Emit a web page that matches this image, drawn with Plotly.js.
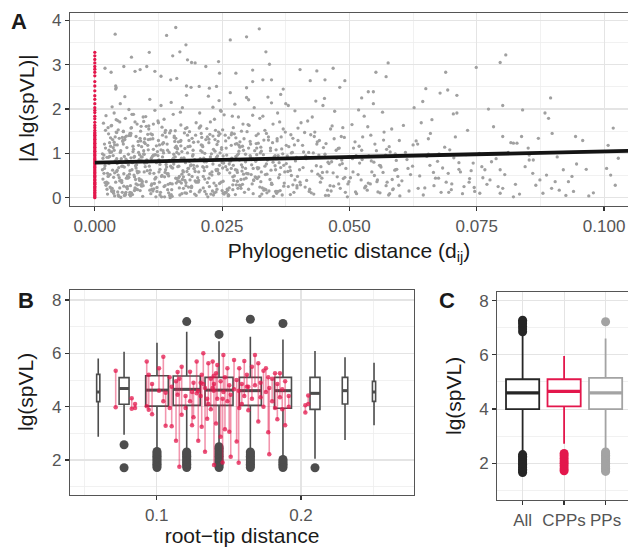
<!DOCTYPE html>
<html>
<head>
<meta charset="utf-8">
<script src="https://cdn.plot.ly/plotly-3.0.1.min.js"></script>
<style>html,body{margin:0;padding:0;background:#fff;}#chart{width:628px;height:547px;}</style>
</head>
<body>
<div id="chart"></div>
<script>
// ---------- Panel A data: pairwise phylogenetic distance vs |Δ lg(spVL)| ----------
const distX = [
 0.0016,0.0021,0.0025,0.0028,0.0031,0.0034,0.0036,0.0039,0.0042,0.0045,0.0047,0.0050,0.0053,0.0056,0.0058,0.0061,0.0064,0.0067,0.0070,0.0073,
 0.0076,0.0079,0.0082,0.0085,0.0088,0.0091,0.0094,0.0097,0.0019,0.0023,0.0027,0.0030,0.0033,0.0037,0.0040,0.0044,0.0048,0.0051,0.0055,0.0059,
 0.0062,0.0066,0.0069,0.0072,0.0075,0.0078,0.0081,0.0084,0.0087,0.0090,0.0093,0.0096,0.0099,0.0018,0.0024,0.0029,0.0035,0.0041,0.0046,0.0052,
 0.0057,0.0063,0.0068,0.0074,0.0080,0.0086,0.0092,0.0098,0.0017,0.0022,0.0026,0.0032,0.0038,0.0043,0.0049,0.0054,0.0060,0.0065,0.0071,0.0077,
 0.0083,0.0089,0.0095,0.0020,0.0034,0.0045,0.0058,0.0067,0.0079,0.0091,0.0028,0.0039,0.0050,0.0061,0.0073,0.0085,0.0097,0.0041,0.0041,0.0042,
 0.0101,0.0104,0.0107,0.0110,0.0113,0.0116,0.0119,0.0122,0.0125,0.0128,0.0131,0.0134,0.0137,0.0140,0.0143,0.0146,0.0149,0.0152,0.0155,0.0158,
 0.0161,0.0164,0.0167,0.0170,0.0173,0.0176,0.0179,0.0182,0.0185,0.0188,0.0191,0.0194,0.0197,0.0102,0.0106,0.0111,0.0115,0.0120,0.0124,0.0129,
 0.0133,0.0138,0.0142,0.0147,0.0151,0.0156,0.0160,0.0165,0.0169,0.0174,0.0178,0.0183,0.0187,0.0192,0.0196,0.0100,0.0109,0.0118,0.0127,0.0136,
 0.0145,0.0154,0.0163,0.0172,0.0181,0.0190,0.0199,0.0105,0.0114,0.0123,0.0132,0.0141,0.0150,0.0159,0.0168,0.0177,0.0186,0.0195,0.0108,0.0117,
 0.0126,0.0135,0.0144,0.0153,0.0162,0.0171,0.0180,0.0189,0.0198,0.0112,0.0121,0.0139,0.0148,0.0157,0.0166,0.0175,0.0184,0.0193,0.0103,0.0130,
 0.0201,0.0205,0.0209,0.0213,0.0217,0.0221,0.0225,0.0229,0.0233,0.0237,0.0241,0.0245,0.0249,0.0253,0.0257,0.0261,0.0265,0.0269,0.0273,0.0277,
 0.0281,0.0285,0.0289,0.0293,0.0297,0.0203,0.0208,0.0214,0.0219,0.0224,0.0230,0.0235,0.0240,0.0246,0.0251,0.0256,0.0262,0.0267,0.0272,0.0278,
 0.0283,0.0288,0.0294,0.0299,0.0206,0.0216,0.0227,0.0238,0.0248,0.0259,0.0270,0.0280,0.0291,0.0211,0.0222,0.0232,0.0243,0.0254,0.0264,0.0275,
 0.0286,0.0296,0.0204,0.0218,0.0231,0.0244,0.0258,0.0271,0.0284,0.0298,0.0212,0.0226,0.0239,0.0252,0.0266,0.0279,0.0292,0.0223,0.0247,0.0268,
 0.0207,0.0220,0.0234,0.0250,0.0263,0.0276,0.0290,0.0215,0.0242,0.0282,
 0.0301,0.0306,0.0311,0.0316,0.0321,0.0326,0.0331,0.0336,0.0341,0.0346,0.0351,0.0356,0.0361,0.0366,0.0371,0.0376,0.0381,0.0386,0.0391,0.0396,
 0.0303,0.0309,0.0314,0.0319,0.0324,0.0329,0.0334,0.0339,0.0344,0.0349,0.0354,0.0359,0.0364,0.0369,0.0374,0.0379,0.0384,0.0389,0.0394,0.0399,
 0.0305,0.0313,0.0322,0.0330,0.0338,0.0347,0.0355,0.0363,0.0372,0.0380,0.0388,0.0397,0.0308,0.0318,0.0327,0.0343,0.0358,0.0368,0.0383,0.0393,
 0.0302,0.0317,0.0333,0.0350,0.0365,0.0378,0.0392,0.0312,0.0340,0.0370,0.0325,0.0357,0.0385,0.0335,0.0362,0.0310,0.0348,0.0375,0.0398,0.0320,
 0.0402,0.0408,0.0413,0.0419,0.0424,0.0430,0.0435,0.0441,0.0446,0.0452,0.0457,0.0463,0.0468,0.0474,0.0479,0.0485,0.0490,0.0496,0.0405,0.0416,
 0.0427,0.0438,0.0449,0.0460,0.0471,0.0482,0.0493,0.0410,0.0421,0.0432,0.0443,0.0454,0.0465,0.0476,0.0487,0.0498,0.0404,0.0426,0.0448,0.0470,
 0.0492,0.0415,0.0437,0.0459,0.0481,0.0412,0.0434,0.0456,0.0478,0.0499,0.0418,0.0440,0.0462,0.0484,0.0422,0.0444,0.0466,0.0488,0.0429,0.0451,
 0.0502,0.0508,0.0514,0.0520,0.0526,0.0532,0.0538,0.0544,0.0550,0.0556,0.0562,0.0568,0.0574,0.0580,0.0586,0.0592,0.0598,0.0505,0.0517,0.0529,
 0.0541,0.0553,0.0565,0.0577,0.0589,0.0511,0.0523,0.0535,0.0547,0.0559,0.0571,0.0583,0.0595,0.0506,0.0530,0.0554,0.0578,0.0599,0.0518,0.0542,
 0.0566,0.0590,0.0512,0.0548,0.0572,0.0536,0.0560,0.0584,0.0524,0.0593,
 0.0603,0.0610,0.0617,0.0624,0.0631,0.0638,0.0645,0.0652,0.0659,0.0666,0.0673,0.0680,0.0687,0.0694,0.0701,0.0708,0.0715,0.0722,0.0729,0.0736,
 0.0743,0.0606,0.0620,0.0634,0.0648,0.0662,0.0676,0.0690,0.0704,0.0718,0.0732,0.0746,0.0613,0.0641,0.0669,0.0697,0.0725,0.0627,0.0655,0.0683,
 0.0711,0.0739,0.0644,0.0700,0.0658,
 0.0801,0.0773,0.0840,0.0884,0.0891,0.0783,0.1018,0.0898,0.0944,0.0958,0.0801,0.0817,0.0838,0.0871,0.0851,0.1028,0.1005,0.1013,0.0979,0.0946,
 0.0965,0.0930,0.0920,0.0887,0.0904,0.0912,0.0897,0.0880,0.0874,0.0860,0.0853,0.0861,0.0940,0.0822,0.0796,0.0801,0.0776,0.0756,0.0760,0.0766,
 0.0796,0.0779,0.0822,0.0829,0.0853,
 0.0755,0.0762,0.0770,0.0788,0.0792,0.0805,0.0812,0.0826,0.0834,0.0845,0.0866,0.0908,0.0925,0.0937,0.0970,0.1008,0.1022,
 0.0040,0.0141,0.0159,0.0266,0.0298,0.0323,0.0179,0.0336,0.0107,0.0153,0.0167,0.0072,0.0020,0.0032,0.0057,0.0079,0.0089,0.0102,0.0118,0.0130,
 0.0182,0.0190,0.0197,0.0218,0.0243,0.0245,0.0277,0.0310,0.0343,0.0403,0.0436,0.0059,0.0149,0.0161,0.0180,0.0189,0.0205,0.0225,0.0239,0.0298,
 0.0310,0.0330,0.0347,0.0370,0.0423,0.0796,0.0807,0.0576,0.0749,0.0468,0.0452,0.0491,0.0552,0.0572,0.0689,0.0481,0.0650,0.0693,0.0678,0.0537,
 0.0547,0.0524,0.0711,0.0895,
 0.0022,0.0027,0.0033,0.0038,0.0044,0.0049,0.0055,0.0060,0.0066,0.0071,0.0077,0.0082,0.0088,0.0093,0.0099,0.0026,0.0037,0.0048,0.0059,0.0070,
 0.0081,0.0092,0.0030,0.0043,0.0056,0.0069,0.0084,0.0096,0.0035,0.0053,0.0064,0.0075,0.0087,0.0024,0.0046,0.0062,0.0078,0.0090,0.0039,0.0068,
 0.0103,0.0108,0.0114,0.0119,0.0125,0.0130,0.0136,0.0141,0.0147,0.0152,0.0158,0.0163,0.0169,0.0174,0.0180,0.0185,0.0191,0.0196,0.0106,0.0117,
 0.0128,0.0139,0.0150,0.0161,0.0172,0.0183,0.0194,0.0111,0.0122,0.0133,0.0144,0.0155,0.0166,0.0177,0.0188,0.0199,0.0115,0.0137,0.0159,0.0181,
 0.0202,0.0208,0.0213,0.0219,0.0224,0.0230,0.0235,0.0241,0.0246,0.0252,0.0257,0.0263,0.0268,0.0274,0.0279,0.0285,0.0290,0.0296,0.0205,0.0216,
 0.0227,0.0238,0.0249,0.0260,0.0271,0.0282,0.0293,0.0210,0.0232,0.0254,0.0276,0.0298,0.0221,0.0243,0.0265,0.0287,0.0214,0.0236,0.0258,0.0280,
 0.0302,0.0308,0.0315,0.0321,0.0328,0.0334,0.0341,0.0347,0.0354,0.0360,0.0367,0.0373,0.0380,0.0386,0.0393,0.0399,0.0311,0.0324,0.0337,0.0350,
 0.0363,0.0376,0.0389,0.0306,0.0332,0.0358,0.0384,0.0319,0.0345,0.0371,0.0397,0.0403,0.0414,0.0425,0.0436,0.0447,0.0458,0.0469,0.0480,0.0491,
 0.0409,0.0431,0.0453,0.0475,0.0497,0.0420,0.0442,0.0464,0.0486,0.0507,0.0519,0.0531,0.0543,0.0555,0.0567,0.0579,0.0591,0.0513,0.0537,0.0561,
 0.0585,0.0525,0.0549,0.0573,0.0597,0.0615,0.0635,0.0655,0.0675,0.0695,0.0715,0.0735,0.0625,0.0665,0.0705,0.0745,0.0018,0.0031,0.0052,0.0074,
 0.0015,0.0019,0.0023,0.0029,0.0034,0.0040,0.0046,0.0051,0.0057,0.0063,0.0069,0.0074,0.0080,0.0086,0.0091,0.0097,0.0021,0.0032,0.0044,0.0055,
 0.0067,0.0078,0.0089,0.0016,0.0025,0.0036,0.0047,0.0058,0.0070,0.0081,0.0093,0.0027,0.0038,0.0050,0.0061,0.0072,0.0083,0.0095,0.0030,0.0053,
 0.0102,0.0109,0.0116,0.0124,0.0131,0.0138,0.0145,0.0153,0.0160,0.0167,0.0175,0.0182,0.0189,0.0197,0.0105,0.0120,0.0134,0.0149,0.0164,0.0178,
 0.0193,0.0112,0.0127,0.0142,0.0156,0.0171,0.0186,0.0101,0.0118,0.0135,0.0151,0.0168,0.0184,0.0199,0.0110,0.0140,0.0170,0.0125,0.0155,0.0190,
 0.0204,0.0212,0.0220,0.0228,0.0236,0.0244,0.0252,0.0260,0.0268,0.0276,0.0284,0.0292,0.0208,0.0224,0.0240,0.0256,0.0272,0.0288,0.0216,0.0248,
 0.0280,0.0232,0.0264,0.0296,0.0302,0.0312,0.0322,0.0332,0.0342,0.0352,0.0307,0.0327,0.0347,0.0317,0.0337,0.0357,0.0015,0.0043,0.0087,0.0126,
 0.0162,0.0201,0.0239,0.0274,0.0033,0.0064,0.0098,0.0133,0.0174,0.0211,0.0250,0.0290,0.0048,0.0079,0.0113,0.0148,0.0187,0.0226,0.0262,0.0305,
 0.0037,0.0062,0.0090,0.0121,0.0158,0.0195,0.0233,0.0271,0.0311,0.0026,0.0054,0.0084,0.0115,0.0146,0.0177,0.0209,0.0245,0.0283,0.0324,0.0360,
 0.0042,0.0071,0.0104,0.0138,0.0171,0.0206,0.0241,0.0277,0.0316,0.0345,0.0020,0.0056,0.0092,0.0128,0.0165,0.0203,0.0238,0.0269,0.0301,0.0338,
 0.0049,0.0076,0.0108,0.0143,0.0179,0.0215,0.0251,0.0287,0.0326,0.0365,0.0024,0.0060,0.0096,0.0132,0.0169,0.0207,0.0243,0.0279,0.0318,0.0355
];
const deltaY = [
 0.42,1.12,0.08,0.77,1.35,0.21,0.95,0.56,1.48,0.13,0.68,1.02,0.34,1.21,0.05,0.87,0.49,1.40,0.27,0.63,
 1.09,0.18,0.74,1.27,0.39,0.92,0.03,0.58,0.66,0.31,1.44,0.52,1.03,0.15,0.83,1.19,0.45,0.01,0.71,1.31,
 0.24,0.98,0.61,0.11,1.16,0.47,1.38,0.29,0.86,1.50,0.37,1.06,0.70,0.96,0.19,1.24,0.62,0.35,1.53,0.88,
 0.54,1.13,0.07,0.79,0.41,1.02,0.26,1.33,1.68,1.85,0.33,1.62,1.91,0.59,1.71,0.12,1.79,0.44,1.57,0.91,
 1.66,0.16,1.82,0.72,2.05,1.74,0.93,1.99,0.22,1.61,1.07,0.04,2.12,0.80,1.88,0.58,1.25,2.45,2.52,2.48,
 0.36,1.18,0.71,0.09,1.42,0.55,0.97,0.23,1.29,0.64,0.02,1.06,0.47,1.37,0.18,0.84,1.51,0.31,0.76,1.13,
 0.43,1.26,0.06,0.89,0.61,1.46,0.27,1.01,0.52,0.14,1.34,0.73,0.38,0.85,1.55,0.28,1.09,0.46,1.73,0.12,
 0.92,0.57,1.21,0.05,0.68,1.39,0.33,0.99,1.64,0.21,0.79,1.15,0.40,0.94,0.08,1.83,0.62,1.97,0.35,1.77,
 0.49,1.88,0.70,2.03,1.58,0.26,1.69,1.31,0.15,1.04,1.59,0.81,2.15,0.44,1.93,0.11,1.49,0.66,2.22,0.96,
 0.58,1.24,0.30,0.87,1.11,0.53,2.31,0.74,1.41,0.19,1.17,0.63,0.00,1.27,0.48,0.90,0.24,1.07,0.82,2.08,
 0.71,0.13,1.19,0.48,0.86,1.37,0.25,0.99,0.06,1.52,0.64,0.32,1.09,0.78,1.28,0.17,0.56,1.46,0.39,0.93,
 0.21,1.14,0.60,1.33,0.44,0.35,1.62,0.89,0.08,1.24,0.51,1.77,0.19,1.01,0.67,1.41,0.04,0.83,1.58,0.29,
 1.05,0.74,0.12,1.49,1.91,0.42,1.71,0.63,1.95,0.96,1.84,0.37,1.66,1.18,0.02,2.04,0.54,1.87,0.76,2.11,
 0.27,0.98,0.58,1.31,0.15,2.19,1.12,0.47,0.85,2.26,0.70,1.43,0.91,0.10,2.37,1.22,0.53,2.29,1.97,0.66,
 0.88,1.56,0.33,0.79,1.35,0.07,1.16,0.61,1.27,1.82,
 0.54,1.21,0.09,0.82,1.44,0.36,0.97,0.18,1.30,0.62,0.03,1.08,0.45,1.37,0.26,0.77,1.15,0.50,0.12,0.91,
 1.63,0.31,1.06,0.68,1.79,0.22,1.52,0.85,0.41,1.24,0.72,1.91,0.16,0.99,1.48,0.59,0.07,1.34,0.83,1.57,
 0.95,2.03,0.47,1.84,0.11,2.14,0.63,1.71,0.33,2.08,1.02,0.27,0.74,1.12,0.58,0.88,1.28,0.06,0.69,1.96,
 2.21,1.40,0.20,1.66,2.33,0.94,1.19,0.39,2.27,1.55,1.01,0.14,1.42,0.52,0.79,1.86,0.30,2.12,0.48,0.65,
 0.63,1.18,0.24,0.91,1.42,0.08,0.72,1.29,0.44,0.98,0.17,1.55,0.56,1.07,0.31,0.85,1.36,0.02,1.69,0.39,
 1.82,0.53,1.13,0.77,1.95,0.21,0.66,1.03,0.14,1.48,0.35,1.22,0.81,0.47,1.58,0.92,0.29,0.60,2.08,1.33,
 0.12,0.88,1.26,0.05,0.74,1.47,2.18,0.58,1.11,0.36,1.73,0.96,0.27,1.38,0.19,0.70,1.62,0.43,1.01,2.24,
 0.45,1.12,0.09,0.78,1.37,0.26,0.94,0.58,1.21,0.13,0.69,1.48,0.35,1.03,0.20,0.84,1.29,1.65,0.52,1.84,
 0.31,1.06,1.93,0.06,0.62,1.26,0.40,0.17,2.12,0.73,0.96,1.55,0.48,0.88,0.22,0.36,1.15,0.04,1.98,1.41,
 0.57,0.99,0.13,0.80,0.27,1.60,0.11,0.41,1.07,0.64,
 0.38,1.02,0.15,0.71,1.28,0.49,0.06,0.93,1.45,0.27,0.82,0.12,1.14,0.55,0.31,1.37,0.64,0.09,0.97,0.43,
 0.78,1.63,0.52,1.21,0.22,1.76,0.99,0.35,1.89,0.58,1.52,0.14,0.86,1.69,0.44,1.08,0.25,2.03,1.33,0.67,
 1.91,0.61,2.17,0.18,0.73,
 2.08,2.00,1.98,1.91,1.79,1.60,1.57,1.45,1.38,1.29,1.38,1.24,1.38,1.34,1.12,0.89,0.66,0.51,0.11,0.76,
 0.64,0.36,0.63,0.51,0.36,0.17,0.21,0.10,0.40,0.55,0.85,0.85,0.14,0.02,0.10,0.21,0.40,0.10,0.70,0.63,
 0.63,0.81,1.23,1.23,0.96,
 1.00,0.45,0.30,0.88,0.25,0.52,1.02,0.30,0.08,0.70,0.28,0.92,0.05,0.48,0.04,1.18,0.28,
 3.69,3.66,3.84,3.56,3.63,3.81,3.45,3.29,3.28,3.20,3.29,3.17,2.92,2.83,2.96,2.85,2.89,2.96,2.85,2.74,
 3.11,3.05,3.04,2.96,3.07,2.81,2.81,2.88,3.01,2.89,2.86,2.28,2.66,2.69,2.52,2.49,2.51,2.47,2.51,2.48,
 2.62,2.66,2.66,2.45,2.64,3.05,3.22,3.04,2.94,2.92,2.66,2.64,2.83,2.73,2.83,2.49,2.46,2.43,2.36,2.39,
 2.39,2.25,2.31,2.25,
 0.28,0.91,0.15,1.07,0.62,0.38,1.27,0.09,0.74,1.45,0.51,0.19,0.97,0.33,1.22,1.58,0.46,0.82,1.36,0.04,
 0.67,1.15,0.24,0.88,1.49,0.12,0.56,0.99,1.31,0.71,0.20,1.04,0.43,0.79,0.06,1.39,0.93,0.29,1.19,0.53,
 0.61,0.17,1.33,0.44,0.83,1.08,0.25,0.69,1.46,0.03,0.92,0.37,1.17,0.58,0.10,1.29,0.48,0.86,1.62,0.32,
 0.75,1.52,0.07,1.02,0.41,0.66,1.25,0.89,0.14,1.41,0.54,0.98,0.22,1.11,0.72,0.35,0.96,0.02,1.34,0.59,
 0.45,1.06,0.22,0.81,1.32,0.58,0.11,0.94,1.44,0.37,0.70,0.05,1.18,0.49,0.87,1.26,0.30,0.66,1.57,0.14,
 0.92,0.27,1.13,0.63,0.18,0.99,0.42,1.36,0.76,0.08,1.21,0.55,0.34,1.48,0.83,0.21,0.68,1.05,0.12,0.96,
 0.19,0.86,0.47,1.23,0.08,0.71,1.37,0.33,0.95,0.14,1.10,0.58,0.25,1.01,0.40,1.29,0.66,0.03,1.45,0.80,
 0.52,1.18,0.29,0.91,0.17,1.33,0.61,0.43,1.06,0.73,0.22,0.35,0.94,0.11,1.21,0.57,0.80,0.26,1.12,0.46,
 0.68,1.38,0.05,0.89,0.31,1.02,0.49,0.15,0.77,0.58,1.16,0.24,0.83,0.40,1.30,0.09,0.63,0.95,0.33,0.72,
 0.18,0.86,0.50,1.09,0.28,0.66,0.21,0.98,0.44,0.12,0.79,0.35,1.19,0.57,0.90,0.23,0.55,1.16,0.39,0.81,
 0.63,1.21,0.35,0.93,0.14,1.37,0.51,1.06,0.26,0.84,1.45,0.07,0.72,1.18,0.40,0.98,1.52,0.21,0.77,1.29,
 0.46,0.16,1.34,0.89,0.55,1.13,0.03,0.69,1.40,0.31,0.92,0.49,1.25,0.82,0.12,1.58,0.60,0.27,1.02,0.38,
 0.79,1.32,0.20,0.95,0.48,1.47,0.11,0.67,1.16,0.36,0.88,1.41,0.24,0.59,1.08,0.02,1.23,0.71,0.44,1.56,
 0.97,0.31,1.19,0.54,1.36,0.09,0.82,1.61,0.42,1.01,0.18,1.27,0.66,0.05,1.44,0.75,0.33,1.69,0.90,0.23,
 0.39,1.15,0.70,0.08,1.31,0.55,0.94,0.19,1.42,0.63,0.28,1.07,0.86,0.44,1.20,0.12,0.73,1.50,1.00,0.35,
 0.57,1.39,0.22,0.81,1.12,0.40,0.67,1.30,0.15,0.92,0.52,1.05,0.30,1.22,0.76,0.10,0.99,1.47,0.58,0.85,
 1.10,0.36,0.61,1.44,1.63,0.25,0.78,1.21,0.47,1.03,0.16,0.69,1.34,1.71,0.93,0.32,1.16,0.54,0.07,1.27,
 0.10,0.44,1.28,0.79,1.51,0.65,1.09,0.29,0.87,0.48,1.36,0.18,1.66,1.02,0.39,1.45,0.73,1.18,0.24,0.95,
 1.76,0.90,1.43,0.27,1.04,1.59,0.61,1.35,0.46,1.12,0.34,1.50,0.83,0.06,0.71,1.26,0.13,0.89,1.65,0.53,
 0.22,1.88,0.55,1.07,0.34,0.81,1.53,0.41,1.14,0.68,0.91,0.06,1.72,0.50,1.29,0.17,1.40,0.62,0.97,0.14
];
// CPP pairs: distance 0
const cppDist = 0;
const cppDeltaY = [0.00,0.02,0.05,0.08,0.11,0.13,0.17,0.20,0.23,0.26,0.30,0.32,0.35,0.39,0.41,0.45,0.48,0.50,0.54,0.57,
 0.60,0.63,0.67,0.69,0.72,0.76,0.78,0.81,0.85,0.87,0.90,0.94,0.96,0.99,1.03,1.05,1.08,1.12,1.14,1.17,
 1.21,1.23,1.26,1.30,1.32,1.35,1.39,1.41,1.44,1.47,1.52,1.58,1.63,1.70,1.78,1.84,1.92,1.97,2.03,2.12,
 2.22,2.30,2.41,2.52,2.62,2.75,2.83,2.90,2.96,3.04,3.12,3.20,3.28];
// linear fit
const fitX = [0, 0.106];
const fitY = [0.79, 1.058];
const fitLo = [0.77, 1.028];
const fitHi = [0.81, 1.088];

// ---------- Panel B data: root-tip distance boxes ----------
const boxX   = [0.0595,0.0774,0.1002,0.1208,0.1432,0.1649,0.1875,0.2097,0.2305,0.2506];
const boxQ1  = [4.19,4.09,4.02,4.05,4.05,4.05,3.94,3.90,4.10,4.20];
const boxMed = [4.55,4.68,4.62,4.65,4.62,4.60,4.60,4.50,4.60,4.55];
const boxQ3  = [5.21,5.09,5.16,5.15,5.10,5.10,5.10,5.10,5.10,4.95];
const boxLo  = [2.87,2.95,2.44,2.45,2.60,2.40,2.15,2.05,2.75,3.30];
const boxHi  = [5.81,6.06,6.40,6.81,6.45,6.62,6.52,6.09,5.85,5.65];
const boxOut = [
 [],
 [2.57,1.71],
 [1.72,1.78,1.84,1.90,1.96,2.02,2.08,2.14,2.20,2.26,2.32],
 [7.19,1.72,1.78,1.84,1.90,1.96,2.02,2.08,2.14,2.20,2.26,2.30],
 [6.71,1.72,1.78,1.84,1.90,1.96,2.02,2.08,2.14,2.20,2.26,2.32,2.38,2.44,2.50],
 [7.28,1.72,1.78,1.84,1.90,1.96,2.02,2.08,2.14,2.20,2.26,2.30],
 [7.12,1.72,1.78,1.84,1.90,1.96,2.02],
 [1.71],
 [],
 []
];
// CPP pairs: root-tip distance and the two partners' lg(spVL)
const pairX  = [0.0716,0.0827,0.0931,0.0945,0.0968,0.1016,0.1046,0.1062,0.1090,0.1104,0.1134,0.1157,0.1173,0.1200,0.1231,0.1255,0.1277,0.1288,0.1312,0.1323,
 0.1335,0.1358,0.1375,0.1388,0.1397,0.1411,0.1420,0.1443,0.1457,0.1462,0.1473,0.1490,0.1503,0.1513,0.1536,0.1554,0.1568,0.1572,0.1590,0.1607,
 0.1625,0.1635,0.1660,0.1681,0.1704,0.1720,0.1740,0.1757,0.1773,0.1780,0.1800,0.1820,0.1836,0.1854,0.1870,0.1890,0.1915,0.2030,0.2050,0.0850,
 0.1145,0.1245,0.1305,0.1350,0.1395];
const pairHi = [5.35,4.32,5.69,5.20,4.85,5.44,5.87,4.52,5.10,4.75,4.95,5.05,5.50,4.40,5.31,4.90,5.69,4.60,5.20,6.00,
 4.70,5.63,5.05,5.69,4.85,5.25,5.56,4.95,4.30,5.94,5.10,5.44,4.80,4.45,5.75,5.00,4.60,5.44,4.85,5.71,
 5.20,4.75,5.50,5.94,5.63,4.90,5.35,5.44,5.10,4.70,5.05,5.25,4.85,5.25,4.65,4.95,4.40,4.05,4.42,4.10,
 5.30,4.55,4.90,4.30,5.15];
const pairLo = [3.98,3.92,4.02,3.88,3.72,4.60,4.20,3.28,3.95,3.27,2.72,1.75,3.70,3.95,4.20,3.60,4.50,2.72,3.25,4.85,
 2.31,4.10,3.90,4.70,1.81,3.37,4.30,2.87,1.91,4.55,3.15,4.20,3.06,2.12,4.65,2.69,1.90,3.95,4.10,4.40,
 4.75,3.87,4.30,4.80,3.44,4.35,4.00,4.55,3.04,2.22,4.20,3.95,3.53,4.35,3.90,3.30,4.00,3.78,4.10,3.95,
 4.45,3.30,4.40,3.55,4.60];

// ---------- Panel C data ----------
const groups = ['All','CPPs','PPs'];
const gQ1  = [4.00,4.10,4.00];
const gMed = [4.60,4.65,4.60];
const gQ3  = [5.10,5.10,5.15];
const gLo  = [2.40,2.72,2.55];
const gHi  = [6.75,5.96,6.60];
const gOut = [
 [6.85,6.95,7.05,7.15,7.22,7.28,1.66,1.72,1.78,1.84,1.90,1.96,2.02,2.08,2.14,2.20,2.26,2.32],
 [1.72,1.80,1.90,2.00,2.08,2.18,2.28,2.36],
 [7.22,1.70,1.76,1.82,1.88,1.94,2.00,2.06,2.12,2.18,2.24,2.30,2.36,2.42]
];

// ---------- styles ----------
const RED = '#E3174C';
const DARK = '#4D4D4D';
const GREY = '#A3A3A3';
const gColors = ['#262626', RED, GREY];
const bWidth = [0.0022,0.0069,0.0157,0.0187,0.0194,0.0152,0.0118,0.0069,0.0038,0.0022];
const gWidth = 0.8;

const traces = [];
// Panel A
traces.push({type:'scatter', mode:'markers', x:distX, y:deltaY, xaxis:'x', yaxis:'y',
  marker:{size:3.3, color:'#A0A0A0'}, hoverinfo:'skip'});
traces.push({type:'scatter', mode:'markers', x:cppDeltaY.map(()=>cppDist), y:cppDeltaY, xaxis:'x', yaxis:'y',
  marker:{size:3.3, color:RED}, hoverinfo:'skip'});
traces.push({type:'scatter', mode:'lines', x:fitX, y:fitLo, xaxis:'x', yaxis:'y', line:{width:0, color:'rgba(0,0,0,0)'}, hoverinfo:'skip'});
traces.push({type:'scatter', mode:'lines', x:fitX, y:fitHi, xaxis:'x', yaxis:'y', fill:'tonexty', fillcolor:'rgba(120,120,120,0.45)', line:{width:0, color:'rgba(0,0,0,0)'}, hoverinfo:'skip'});
traces.push({type:'scatter', mode:'lines', x:fitX, y:fitY, xaxis:'x', yaxis:'y', line:{width:3.8, color:'#141414'}, hoverinfo:'skip'});

// Panel B boxes
boxX.forEach((bx,i)=>{
  traces.push({type:'box', x:[bx], q1:[boxQ1[i]], median:[boxMed[i]], q3:[boxQ3[i]], lowerfence:[boxLo[i]], upperfence:[boxHi[i]],
    width:bWidth[i], xaxis:'x2', yaxis:'y2', boxpoints:false, whiskerwidth:0, fillcolor:'white',
    line:{color:DARK, width:1.6}, hoverinfo:'skip'});
});
const outX=[], outY=[], medX=[], medY=[];
boxX.forEach((bx,i)=>{
  boxOut[i].forEach(v=>{outX.push(bx); outY.push(v);});
  medX.push(bx-bWidth[i]/2, bx+bWidth[i]/2, null); medY.push(boxMed[i], boxMed[i], null);
});
traces.push({type:'scatter', mode:'markers', x:outX, y:outY, xaxis:'x2', yaxis:'y2', marker:{size:9, color:DARK}, hoverinfo:'skip'});
traces.push({type:'scatter', mode:'lines', x:medX, y:medY, xaxis:'x2', yaxis:'y2', line:{color:DARK, width:3}, hoverinfo:'skip'});
const segX=[], segY=[];
pairX.forEach((px,i)=>{segX.push(px,px,null); segY.push(pairHi[i],pairLo[i],null);});
traces.push({type:'scatter', mode:'lines', x:segX, y:segY, xaxis:'x2', yaxis:'y2', line:{color:'rgba(227,23,76,0.45)', width:1.6}, hoverinfo:'skip'});
traces.push({type:'scatter', mode:'markers', x:pairX.concat(pairX), y:pairHi.concat(pairLo), xaxis:'x2', yaxis:'y2',
  marker:{size:4.5, color:'rgba(227,23,76,0.75)'}, hoverinfo:'skip'});

// Panel C
groups.forEach((g,i)=>{
  traces.push({type:'box', x:[i], q1:[gQ1[i]], median:[gMed[i]], q3:[gQ3[i]], lowerfence:[gLo[i]], upperfence:[gHi[i]],
    width:gWidth, xaxis:'x3', yaxis:'y3', boxpoints:false, whiskerwidth:0, fillcolor:'white',
    line:{color:gColors[i], width:1.8}, hoverinfo:'skip', name:g});
  traces.push({type:'scatter', mode:'markers', x:gOut[i].map(()=>i), y:gOut[i], xaxis:'x3', yaxis:'y3',
    marker:{size:9, color:gColors[i]}, hoverinfo:'skip'});
  traces.push({type:'scatter', mode:'lines', x:[i-gWidth/2, i+gWidth/2], y:[gMed[i], gMed[i]], xaxis:'x3', yaxis:'y3',
    line:{color:gColors[i], width:3.2}, hoverinfo:'skip'});
});

const FONT = 'Liberation Sans, Arial, sans-serif';
const titleFont = {family:FONT, size:21, color:'#1A1A1A'};
function ax(extra){
  return Object.assign({
    showline:true, linecolor:'#555555', linewidth:1.2,
    ticks:'outside', ticklen:4, tickwidth:1.2, tickcolor:'#333333',
    tickfont:{family:FONT, size:17, color:'#555555'},
    showgrid:true, gridcolor:'#E4E4E4', gridwidth:1.1, zeroline:false, fixedrange:true
  }, extra);
}
const minorGrid = (d)=>({dtick:d, tick0:0, showgrid:true, gridcolor:'#EEEEEE', gridwidth:0.8});
const P = (px)=>px/628, Q = (py)=>1-py/547;
const yTitle = (text, px, py)=>({text:text, xref:'paper', yref:'paper', x:P(px), y:Q(py), xanchor:'center', yanchor:'middle',
  textangle:-90, showarrow:false, font:titleFont});
const panelTag = (text, px, py)=>({text:'<b>'+text+'</b>', xref:'paper', yref:'paper', x:P(px), y:Q(py), xanchor:'center', yanchor:'middle',
  showarrow:false, font:{family:FONT, size:22, color:'#1A1A1A'}});

const layout = {
  width:628, height:547, margin:{l:0,r:0,t:0,b:0},
  paper_bgcolor:'white', plot_bgcolor:'white', showlegend:false, boxmode:'overlay',
  font:{family:FONT},
  xaxis: ax({domain:[P(70),1], anchor:'y', range:[-0.00487,0.1047], dtick:0.025, tick0:0, tickformat:'.3f', mirror:true,
    minor:minorGrid(0.0125), title:{text:'Phylogenetic distance (d<sub>ij</sub>)', font:titleFont, standoff:8}}),
  yaxis: ax({domain:[Q(206),Q(13)], anchor:'x', range:[-0.188,4.167], dtick:1, tick0:0, minor:minorGrid(0.5)}),
  xaxis2: ax({domain:[P(70),P(414)], anchor:'y2', range:[0.03993,0.2783], dtick:0.1, tick0:0, tickformat:'.1f', mirror:true,
    minor:minorGrid(0.05), title:{text:'root−tip distance', font:titleFont, standoff:6}}),
  yaxis2: ax({domain:[Q(495),Q(290)], anchor:'x2', range:[0.6875,8.375], dtick:2, tick0:0, mirror:true, minor:minorGrid(1)}),
  xaxis3: ax({domain:[P(497.3),1], anchor:'y3', range:[-0.61,2.54], tickvals:groups.map((g,i)=>i), ticktext:groups, mirror:true}),
  yaxis3: ax({domain:[Q(500),Q(291.7)], anchor:'x3', range:[0.645,8.33], dtick:2, tick0:0, minor:minorGrid(1)}),
  annotations:[
    yTitle('|Δ lg(spVL)|', 27, 108),
    yTitle('lg(spVL)', 25, 392),
    yTitle('lg(spVL)', 453, 396),
    panelTag('A', 19, 21.5),
    panelTag('B', 26, 300),
    panelTag('C', 446.5, 300)
  ]
};
Plotly.newPlot('chart', traces, layout, {staticPlot:true, displayModeBar:false});
</script>
</body>
</html>
